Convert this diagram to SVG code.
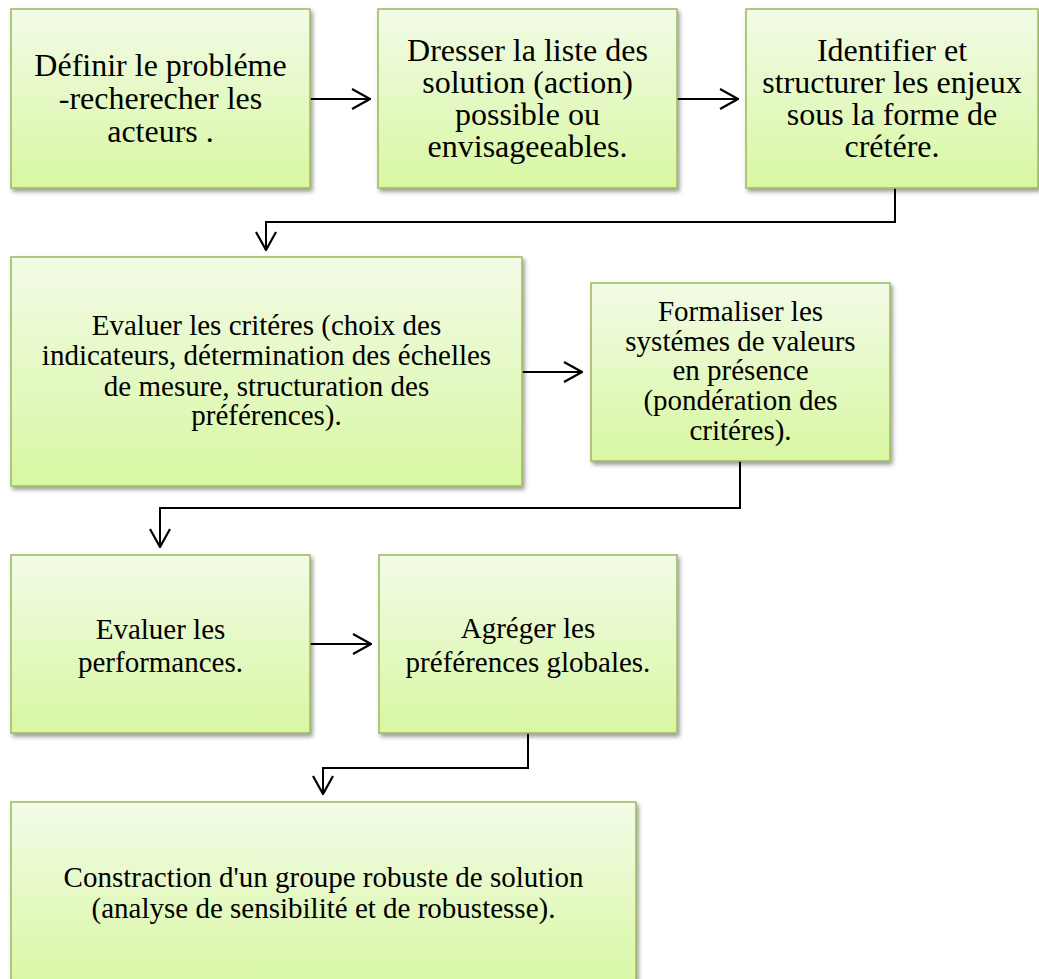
<svg xmlns="http://www.w3.org/2000/svg" width="1039" height="979" viewBox="0 0 1039 979">
  <style>
    .box { fill: url(#boxFill); stroke: #9bbb59; stroke-width: 1.5; filter: url(#boxShadow); }
    .lbl { font-family: "Liberation Serif", "Times New Roman", serif; fill: #000; text-anchor: middle; }
    .big { font-size: 32px; }
    .mid { font-size: 29px; }
    .link { fill: none; stroke: #000; stroke-width: 2; marker-end: url(#chevron); }
  </style>
  <defs>
    <linearGradient id="boxFill" x1="0" y1="0" x2="0" y2="1">
      <stop offset="0" stop-color="#f2fbe6"/>
      <stop offset="1" stop-color="#d8f7a2"/>
    </linearGradient>
    <filter id="boxShadow" x="-5%" y="-5%" width="115%" height="120%">
      <feDropShadow dx="2" dy="3" stdDeviation="2" flood-color="#000" flood-opacity="0.4"/>
    </filter>
    <marker id="chevron" markerUnits="userSpaceOnUse" viewBox="0 0 20 22" refX="19" refY="11" markerWidth="20" markerHeight="22" orient="auto">
      <path d="M1,1 L19,11 L1,21" fill="none" stroke="#000" stroke-width="2.2"/>
    </marker>
  </defs>

  <rect width="1039" height="979" fill="#fff"/>

  <g id="connectors">
    <path class="link" d="M310,99 H370"/>
    <path class="link" d="M677,99 H738"/>
    <path class="link" d="M895,188 V222 H266 V250"/>
    <path class="link" d="M522,372 H582"/>
    <path class="link" d="M740,461 V508 H160 V547"/>
    <path class="link" d="M310,644 H371"/>
    <path class="link" d="M528,733 V768 H323 V794"/>
  </g>

  <g id="node-definir">
    <rect class="box" x="11" y="9" width="299" height="179"/>
    <text class="lbl big" x="160.5" y="76">Définir le probléme</text>
    <text class="lbl big" x="160.5" y="109">-recherecher les</text>
    <text class="lbl big" x="160.5" y="142">acteurs .</text>
  </g>

  <g id="node-solutions">
    <rect class="box" x="378" y="9" width="299" height="179"/>
    <text class="lbl big" x="527.5" y="61">Dresser la liste des</text>
    <text class="lbl big" x="527.5" y="93">solution (action)</text>
    <text class="lbl big" x="527.5" y="125">possible ou</text>
    <text class="lbl big" x="527.5" y="157">envisageeables.</text>
  </g>

  <g id="node-enjeux">
    <rect class="box" x="746" y="9" width="292" height="179"/>
    <text class="lbl big" x="892" y="61">Identifier et</text>
    <text class="lbl big" x="892" y="93">structurer les enjeux</text>
    <text class="lbl big" x="892" y="125">sous la forme de</text>
    <text class="lbl big" x="892" y="157">crétére.</text>
  </g>

  <g id="node-criteres">
    <rect class="box" x="11" y="257" width="511" height="229"/>
    <text class="lbl mid" x="266.5" y="335">Evaluer les critéres (choix des</text>
    <text class="lbl mid" x="266.5" y="365">indicateurs, détermination des échelles</text>
    <text class="lbl mid" x="266.5" y="396">de mesure, structuration des</text>
    <text class="lbl mid" x="266.5" y="425">préférences).</text>
  </g>

  <g id="node-valeurs">
    <rect class="box" x="591" y="283" width="299" height="178"/>
    <text class="lbl mid" x="740.5" y="321">Formaliser les</text>
    <text class="lbl mid" x="740.5" y="351">systémes de valeurs</text>
    <text class="lbl mid" x="740.5" y="380">en présence</text>
    <text class="lbl mid" x="740.5" y="410">(pondération des</text>
    <text class="lbl mid" x="740.5" y="440">critéres).</text>
  </g>

  <g id="node-performances">
    <rect class="box" x="11" y="555" width="299" height="178"/>
    <text class="lbl mid" x="160.5" y="639">Evaluer les</text>
    <text class="lbl mid" x="160.5" y="672">performances.</text>
  </g>

  <g id="node-agreger">
    <rect class="box" x="379" y="555" width="298" height="178"/>
    <text class="lbl mid" x="528" y="638">Agréger les</text>
    <text class="lbl mid" x="528" y="672">préférences globales.</text>
  </g>

  <g id="node-robustesse">
    <rect class="box" x="11" y="802" width="625" height="192"/>
    <text class="lbl mid" x="323.5" y="887">Constraction d'un groupe robuste de solution</text>
    <text class="lbl mid" x="323.5" y="918">(analyse de sensibilité et de robustesse).</text>
  </g>
</svg>
